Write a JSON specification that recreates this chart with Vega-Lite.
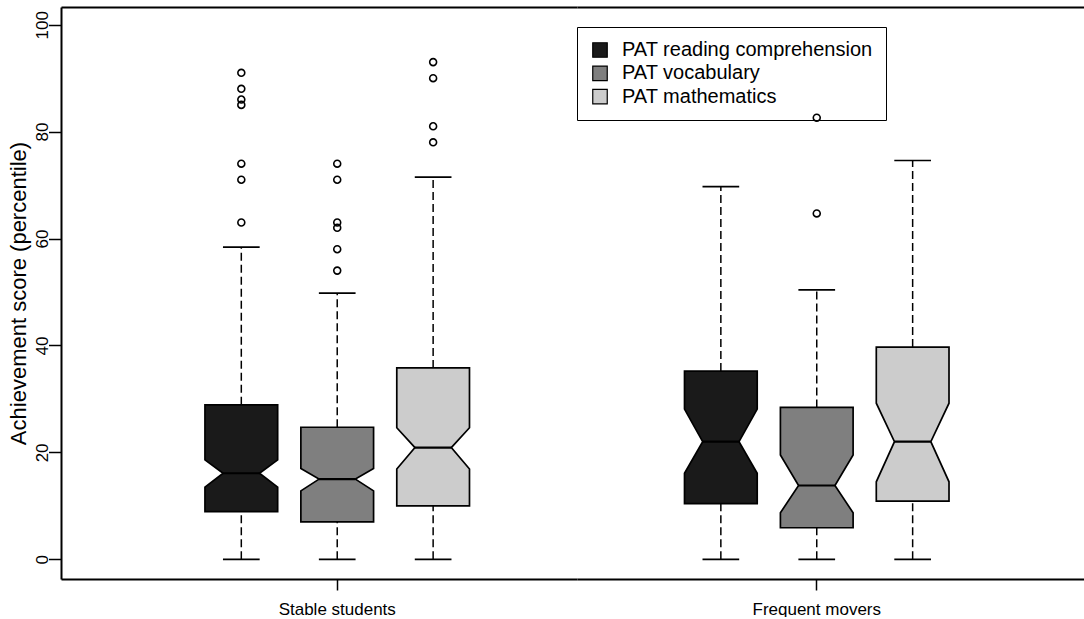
{
  "$schema": "https://vega.github.io/schema/vega-lite/v6.json",
  "autosize": {"type": "pad"},
  "padding": {"left": 7, "top": 7, "right": 0, "bottom": 0},
  "bounds": "flush",
  "spacing": 0,
  "datasets": {
    "boxes": [
      {"group": "Stable students", "test": "PAT reading comprehension", "lo": 0, "q1": 8.9, "nlo": 13.5, "med": 16.1, "nhi": 18.6, "q3": 28.9, "hi": 58.4},
      {"group": "Stable students", "test": "PAT vocabulary", "lo": 0, "q1": 7.0, "nlo": 12.8, "med": 15.0, "nhi": 17.0, "q3": 24.7, "hi": 49.8},
      {"group": "Stable students", "test": "PAT mathematics", "lo": 0, "q1": 10.0, "nlo": 16.9, "med": 20.9, "nhi": 24.6, "q3": 35.8, "hi": 71.5},
      {"group": "Frequent movers", "test": "PAT reading comprehension", "lo": 0, "q1": 10.4, "nlo": 16.1, "med": 22.0, "nhi": 28.1, "q3": 35.2, "hi": 69.7},
      {"group": "Frequent movers", "test": "PAT vocabulary", "lo": 0, "q1": 5.9, "nlo": 8.7, "med": 13.8, "nhi": 19.5, "q3": 28.4, "hi": 50.4},
      {"group": "Frequent movers", "test": "PAT mathematics", "lo": 0, "q1": 10.9, "nlo": 14.5, "med": 22.0, "nhi": 29.2, "q3": 39.7, "hi": 74.6}
    ],
    "outliers": [
      {"group": "Stable students", "test": "PAT reading comprehension", "value": 91},
      {"group": "Stable students", "test": "PAT reading comprehension", "value": 88},
      {"group": "Stable students", "test": "PAT reading comprehension", "value": 86},
      {"group": "Stable students", "test": "PAT reading comprehension", "value": 85},
      {"group": "Stable students", "test": "PAT reading comprehension", "value": 74},
      {"group": "Stable students", "test": "PAT reading comprehension", "value": 71},
      {"group": "Stable students", "test": "PAT reading comprehension", "value": 63},
      {"group": "Stable students", "test": "PAT vocabulary", "value": 74},
      {"group": "Stable students", "test": "PAT vocabulary", "value": 71},
      {"group": "Stable students", "test": "PAT vocabulary", "value": 63},
      {"group": "Stable students", "test": "PAT vocabulary", "value": 62},
      {"group": "Stable students", "test": "PAT vocabulary", "value": 58},
      {"group": "Stable students", "test": "PAT vocabulary", "value": 54},
      {"group": "Stable students", "test": "PAT mathematics", "value": 93},
      {"group": "Stable students", "test": "PAT mathematics", "value": 90},
      {"group": "Stable students", "test": "PAT mathematics", "value": 81},
      {"group": "Stable students", "test": "PAT mathematics", "value": 78},
      {"group": "Frequent movers", "test": "PAT vocabulary", "value": 82.6},
      {"group": "Frequent movers", "test": "PAT vocabulary", "value": 64.7}
    ],
    "shape": [
      {"stat": "q1", "f": [-1, 1], "ord": [1, 10]},
      {"stat": "nlo", "f": [-1, 1], "ord": [2, 9]},
      {"stat": "med", "f": [-0.5, 0.5], "ord": [3, 8]},
      {"stat": "nhi", "f": [-1, 1], "ord": [4, 7]},
      {"stat": "q3", "f": [-1, 1], "ord": [5, 6]}
    ]
  },
  "hconcat": [
    {
      "width": 516,
      "height": 572,
      "encoding": {
        "y": {"type": "quantitative", "title": "Achievement score (percentile)",
              "scale": {"domain": [-3.685, 103.31], "nice": false, "zero": false},
              "axis": {"orient": "left", "values": [0, 20, 40, 60, 80, 100], "titleFontSize": 22, "titleFontWeight": "normal", "titleAngle": 270, "titleX": -36, "titleBaseline": "alphabetic", "labelAngle": 270, "labelAlign": "center", "labelBaseline": "alphabetic", "labelPadding": 1, "labelFontSize": 17, "tickSize": 12.5, "tickWidth": 1.5, "domainWidth": 2}}
      },
      "layer": [
        {
          "data": {"name": "boxes"},
          "transform": [
            {"filter": "datum.group === 'Stable students'"},
            {"fold": ["q1", "nlo", "med", "nhi", "q3"], "as": ["stat", "v"]},
            {"lookup": "stat", "from": {"data": {"name": "shape"}, "key": "stat", "fields": ["f", "ord"]}},
            {"flatten": ["f", "ord"]}
          ],
          "mark": {"type": "line", "interpolate": "linear-closed", "stroke": "black", "strokeWidth": 1.7},
          "encoding": {
            "x": {"field": "test", "type": "nominal",
                  "scale": {"type": "band", "domain": ["", "PAT reading comprehension", "PAT vocabulary", "PAT mathematics", " "], "paddingInner": 0, "paddingOuter": 0.19, "align": 1},
                  "axis": {"orient": "bottom", "values": ["PAT vocabulary"], "labelExpr": "'Stable students'", "title": null, "labelAngle": 0, "labelFontSize": 17, "labelPadding": 11, "tickSize": 11, "tickWidth": 1.5, "domainWidth": 2}},
            "xOffset": {"field": "f", "type": "quantitative", "scale": {"domain": [-1.3191, 1.3191]}},
            "y": {"field": "v"},
            "fill": {"field": "test", "type": "nominal",
                     "scale": {"domain": ["PAT reading comprehension", "PAT vocabulary", "PAT mathematics"], "range": ["#1a1a1a", "#7f7f7f", "#cccccc"]},
                     "legend": {"title": null, "orient": "none", "legendX": 516, "legendY": 20, "symbolType": "square", "symbolSize": 210, "symbolStrokeColor": "black", "symbolStrokeWidth": 1.2, "labelFontSize": 20, "labelLimit": 0, "labelOffset": 12, "rowPadding": 3.3, "padding": 13, "strokeColor": "black", "labelColor": "black", "labelFont": "Liberation Sans"}},
            "order": {"field": "ord", "type": "quantitative"}
          }
        },
        {
          "data": {"name": "boxes"},
          "transform": [{"filter": "datum.group === 'Stable students'"}],
          "mark": {"type": "rule", "strokeDash": [8, 4], "strokeWidth": 1.5, "color": "black"},
          "encoding": {
            "x": {"field": "test", "type": "nominal", "scale": {"type": "band", "domain": ["", "PAT reading comprehension", "PAT vocabulary", "PAT mathematics", " "], "paddingInner": 0, "paddingOuter": 0.19, "align": 1}, "axis": null},
            "y": {"field": "q3"},
            "y2": {"field": "hi"}
          }
        },
        {
          "data": {"name": "boxes"},
          "transform": [{"filter": "datum.group === 'Stable students'"}],
          "mark": {"type": "rule", "strokeDash": [8, 4], "strokeWidth": 1.5, "color": "black"},
          "encoding": {
            "x": {"field": "test", "type": "nominal", "scale": {"type": "band", "domain": ["", "PAT reading comprehension", "PAT vocabulary", "PAT mathematics", " "], "paddingInner": 0, "paddingOuter": 0.19, "align": 1}, "axis": null},
            "y": {"field": "lo"},
            "y2": {"field": "q1"}
          }
        },
        {
          "data": {"name": "boxes"},
          "transform": [{"filter": "datum.group === 'Stable students'"}, {"fold": ["lo", "hi"], "as": ["end", "v"]}],
          "mark": {"type": "tick", "orient": "horizontal", "size": 36.7, "thickness": 1.7, "color": "black", "opacity": 1},
          "encoding": {
            "x": {"field": "test", "type": "nominal", "scale": {"type": "band", "domain": ["", "PAT reading comprehension", "PAT vocabulary", "PAT mathematics", " "], "paddingInner": 0, "paddingOuter": 0.19, "align": 1}, "axis": null},
            "y": {"field": "v"}
          }
        },
        {
          "data": {"name": "boxes"},
          "transform": [{"filter": "datum.group === 'Stable students'"}],
          "mark": {"type": "tick", "orient": "horizontal", "size": 36.4, "thickness": 2.2, "color": "black", "opacity": 1},
          "encoding": {
            "x": {"field": "test", "type": "nominal", "scale": {"type": "band", "domain": ["", "PAT reading comprehension", "PAT vocabulary", "PAT mathematics", " "], "paddingInner": 0, "paddingOuter": 0.19, "align": 1}, "axis": null},
            "y": {"field": "med"}
          }
        },
        {
          "data": {"name": "outliers"},
          "transform": [{"filter": "datum.group === 'Stable students'"}],
          "mark": {"type": "point", "shape": "circle", "filled": false, "stroke": "black", "strokeWidth": 1.6, "size": 48, "opacity": 1},
          "encoding": {
            "x": {"field": "test", "type": "nominal", "scale": {"type": "band", "domain": ["", "PAT reading comprehension", "PAT vocabulary", "PAT mathematics", " "], "paddingInner": 0, "paddingOuter": 0.19, "align": 1},
                  "axis": {"orient": "top", "labels": false, "ticks": false, "title": null, "domainWidth": 2}},
            "y": {"field": "value"}
          }
        }
      ],
      "resolve": {"axis": {"x": "independent"}}
    },
    {
      "width": 507,
      "height": 572,
      "encoding": {
        "y": {"type": "quantitative", "scale": {"domain": [-3.685, 103.31], "nice": false, "zero": false}, "axis": null}
      },
      "layer": [
        {
          "data": {"name": "boxes"},
          "transform": [
            {"filter": "datum.group === 'Frequent movers'"},
            {"fold": ["q1", "nlo", "med", "nhi", "q3"], "as": ["stat", "v"]},
            {"lookup": "stat", "from": {"data": {"name": "shape"}, "key": "stat", "fields": ["f", "ord"]}},
            {"flatten": ["f", "ord"]}
          ],
          "mark": {"type": "line", "interpolate": "linear-closed", "stroke": "black", "strokeWidth": 1.7},
          "encoding": {
            "x": {"field": "test", "type": "nominal",
                  "scale": {"type": "band", "domain": ["", "PAT reading comprehension", "PAT vocabulary", "PAT mathematics", " "], "paddingInner": 0, "paddingOuter": 0.1434, "align": 0},
                  "axis": {"orient": "bottom", "values": ["PAT vocabulary"], "labelExpr": "'Frequent movers'", "title": null, "labelAngle": 0, "labelFontSize": 17, "labelPadding": 11, "tickSize": 11, "tickWidth": 1.5, "domainWidth": 2}},
            "xOffset": {"field": "f", "type": "quantitative", "scale": {"domain": [-1.3191, 1.3191]}},
            "y": {"field": "v"},
            "fill": {"field": "test", "type": "nominal",
                     "scale": {"domain": ["PAT reading comprehension", "PAT vocabulary", "PAT mathematics"], "range": ["#1a1a1a", "#7f7f7f", "#cccccc"]},
                     "legend": {"title": null, "orient": "none", "legendX": 516, "legendY": 20, "symbolType": "square", "symbolSize": 210, "symbolStrokeColor": "black", "symbolStrokeWidth": 1.2, "labelFontSize": 20, "labelLimit": 0, "labelOffset": 12, "rowPadding": 3.3, "padding": 13, "strokeColor": "black", "labelColor": "black", "labelFont": "Liberation Sans"}},
            "order": {"field": "ord", "type": "quantitative"}
          }
        },
        {
          "data": {"name": "boxes"},
          "transform": [{"filter": "datum.group === 'Frequent movers'"}],
          "mark": {"type": "rule", "strokeDash": [8, 4], "strokeWidth": 1.5, "color": "black"},
          "encoding": {
            "x": {"field": "test", "type": "nominal", "scale": {"type": "band", "domain": ["", "PAT reading comprehension", "PAT vocabulary", "PAT mathematics", " "], "paddingInner": 0, "paddingOuter": 0.1434, "align": 0}, "axis": null},
            "y": {"field": "q3"},
            "y2": {"field": "hi"}
          }
        },
        {
          "data": {"name": "boxes"},
          "transform": [{"filter": "datum.group === 'Frequent movers'"}],
          "mark": {"type": "rule", "strokeDash": [8, 4], "strokeWidth": 1.5, "color": "black"},
          "encoding": {
            "x": {"field": "test", "type": "nominal", "scale": {"type": "band", "domain": ["", "PAT reading comprehension", "PAT vocabulary", "PAT mathematics", " "], "paddingInner": 0, "paddingOuter": 0.1434, "align": 0}, "axis": null},
            "y": {"field": "lo"},
            "y2": {"field": "q1"}
          }
        },
        {
          "data": {"name": "boxes"},
          "transform": [{"filter": "datum.group === 'Frequent movers'"}, {"fold": ["lo", "hi"], "as": ["end", "v"]}],
          "mark": {"type": "tick", "orient": "horizontal", "size": 36.7, "thickness": 1.7, "color": "black", "opacity": 1},
          "encoding": {
            "x": {"field": "test", "type": "nominal", "scale": {"type": "band", "domain": ["", "PAT reading comprehension", "PAT vocabulary", "PAT mathematics", " "], "paddingInner": 0, "paddingOuter": 0.1434, "align": 0}, "axis": null},
            "y": {"field": "v"}
          }
        },
        {
          "data": {"name": "boxes"},
          "transform": [{"filter": "datum.group === 'Frequent movers'"}],
          "mark": {"type": "tick", "orient": "horizontal", "size": 36.4, "thickness": 2.2, "color": "black", "opacity": 1},
          "encoding": {
            "x": {"field": "test", "type": "nominal", "scale": {"type": "band", "domain": ["", "PAT reading comprehension", "PAT vocabulary", "PAT mathematics", " "], "paddingInner": 0, "paddingOuter": 0.1434, "align": 0}, "axis": null},
            "y": {"field": "med"}
          }
        },
        {
          "data": {"name": "outliers"},
          "transform": [{"filter": "datum.group === 'Frequent movers'"}],
          "mark": {"type": "point", "shape": "circle", "filled": false, "stroke": "black", "strokeWidth": 1.6, "size": 48, "opacity": 1},
          "encoding": {
            "x": {"field": "test", "type": "nominal", "scale": {"type": "band", "domain": ["", "PAT reading comprehension", "PAT vocabulary", "PAT mathematics", " "], "paddingInner": 0, "paddingOuter": 0.1434, "align": 0},
                  "axis": {"orient": "top", "labels": false, "ticks": false, "title": null, "domainWidth": 2}},
            "y": {"field": "value"}
          }
        }
      ],
      "resolve": {"axis": {"x": "independent"}}
    }
  ],
  "resolve": {"scale": {"x": "independent", "y": "independent", "fill": "shared"}, "axis": {"y": "independent"}},
  "config": {
    "font": "Liberation Sans",
    "view": {"stroke": null},
    "axis": {"domainColor": "black", "tickColor": "black", "labelColor": "black", "titleColor": "black", "grid": false, "labelFont": "Liberation Sans", "titleFont": "Liberation Sans"}
  }
}
